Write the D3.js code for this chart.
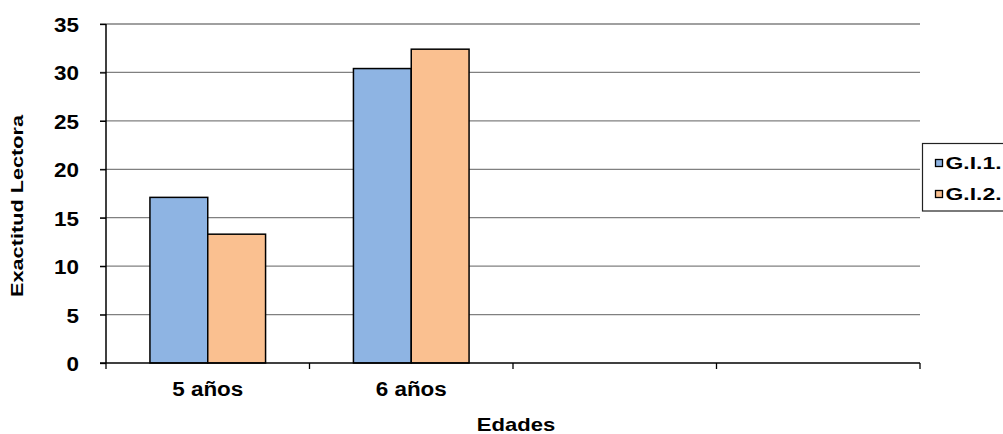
<!DOCTYPE html>
<html><head><meta charset="utf-8">
<script src="https://cdn.jsdelivr.net/npm/d3@7"></script>
<style>body{margin:0;background:#fff}svg{display:block}text{font-family:"Liberation Sans",Arial,sans-serif;font-weight:bold;fill:#000}</style>
</head><body><svg id="c" width="1003" height="434"></svg>
<script>
const categories = ["5 años", "6 años", "", " "];
const seriesNames = ["G.I.1.", "G.I.2."];
const gi1 = [17.1, 30.4, null, null];
const gi2 = [13.3, 32.4, null, null];
const yTicks = [0, 5, 10, 15, 20, 25, 30, 35];
const colors = ["#8EB4E3", "#FAC090"];

const svg = d3.select("#c");
const L = 106, R = 920, T = 24, B = 363;
const x = d3.scaleBand().domain(categories).range([L, R]).paddingInner(0).paddingOuter(0);
const y = d3.scaleLinear().domain([0, 35]).range([B, T]);
const inner = d3.scaleBand().domain(seriesNames).range([0, x.bandwidth()]).paddingInner(0).paddingOuter(0.76);

function stretch(sel, k) {
  sel.each(function () {
    const l = this.getComputedTextLength();
    d3.select(this).attr("textLength", l * k).attr("lengthAdjust", "spacingAndGlyphs");
  });
}

// gridlines
svg.append("g").selectAll("line").data(yTicks.filter(d => d > 0)).join("line")
  .attr("x1", L - 6).attr("x2", R).attr("y1", d => y(d)).attr("y2", d => y(d))
  .attr("stroke", "#808080").attr("stroke-width", 1.3);

// bars
const series = [gi1, gi2];
series.forEach((vals, si) => {
  svg.append("g").selectAll("rect").data(categories.map((c, i) => ({c, v: vals[i]})).filter(d => d.v != null)).join("rect")
    .attr("x", d => x(d.c) + inner(seriesNames[si]))
    .attr("width", inner.bandwidth())
    .attr("y", d => y(d.v)).attr("height", d => y(0) - y(d.v))
    .attr("fill", colors[si]).attr("stroke", "#000").attr("stroke-width", 1.5);
});

// y axis
const ya = svg.append("g").attr("transform", `translate(${L},0)`)
  .call(d3.axisLeft(y).tickValues(yTicks).tickSize(6).tickPadding(21));
ya.select(".domain").attr("stroke", "#000").attr("stroke-width", 1.5).attr("d", `M0,${T}V${B}`);
ya.selectAll(".tick line").attr("stroke", "#000").attr("stroke-width", 1.3);
ya.selectAll("text").attr("dy", "7.5px").style("font-size", "19.5px").style("font-family", "Liberation Sans, Arial, sans-serif").style("font-weight", "bold");
stretch(ya.selectAll("text"), 1.15);

// x axis
const xa = svg.append("g").attr("transform", `translate(0,${B})`);
xa.append("line").attr("x1", L - 6).attr("x2", R).attr("y1", 0).attr("y2", 0).attr("stroke", "#000").attr("stroke-width", 1.5);
const bounds = categories.map(c => x(c)).concat([R]);
xa.selectAll("line.tk").data(bounds).join("line").attr("class", "tk")
  .attr("x1", d => d).attr("x2", d => d).attr("y1", 0).attr("y2", 6).attr("stroke", "#000").attr("stroke-width", 1.3);
const xl = xa.selectAll("text").data(categories.filter(c => c.trim())).join("text")
  .attr("x", d => x(d) + x.bandwidth() / 2).attr("y", 33).attr("text-anchor", "middle")
  .style("font-size", "19.5px").text(d => d);
stretch(xl, 1.15);

// axis titles
const xt = svg.append("text").attr("x", 516).attr("y", 431).attr("text-anchor", "middle").style("font-size", "19px").text("Edades");
stretch(xt, 1.16);
const yt = svg.append("text").attr("transform", "translate(23,206) rotate(-90)").attr("text-anchor", "middle").style("font-size", "17px").text("Exactitud Lectora");
yt.attr("textLength", 182).attr("lengthAdjust", "spacingAndGlyphs");

// legend
const lg = svg.append("g");
lg.append("rect").attr("x", 922.5).attr("y", 143.5).attr("width", 100).attr("height", 67.5).attr("fill", "#fff").attr("stroke", "#222").attr("stroke-width", 1.2);
seriesNames.forEach((n, i) => {
  const ty = 168.5 + i * 31;
  lg.append("rect").attr("x", 935.5).attr("y", ty - 9).attr("width", 7).attr("height", 7).attr("fill", colors[i]).attr("stroke", "#000").attr("stroke-width", 1.3);
  lg.append("text").attr("x", 945.5).attr("y", ty).style("font-size", "17px").text(n)
    .attr("textLength", 56).attr("lengthAdjust", "spacingAndGlyphs");
});
</script></body></html>
